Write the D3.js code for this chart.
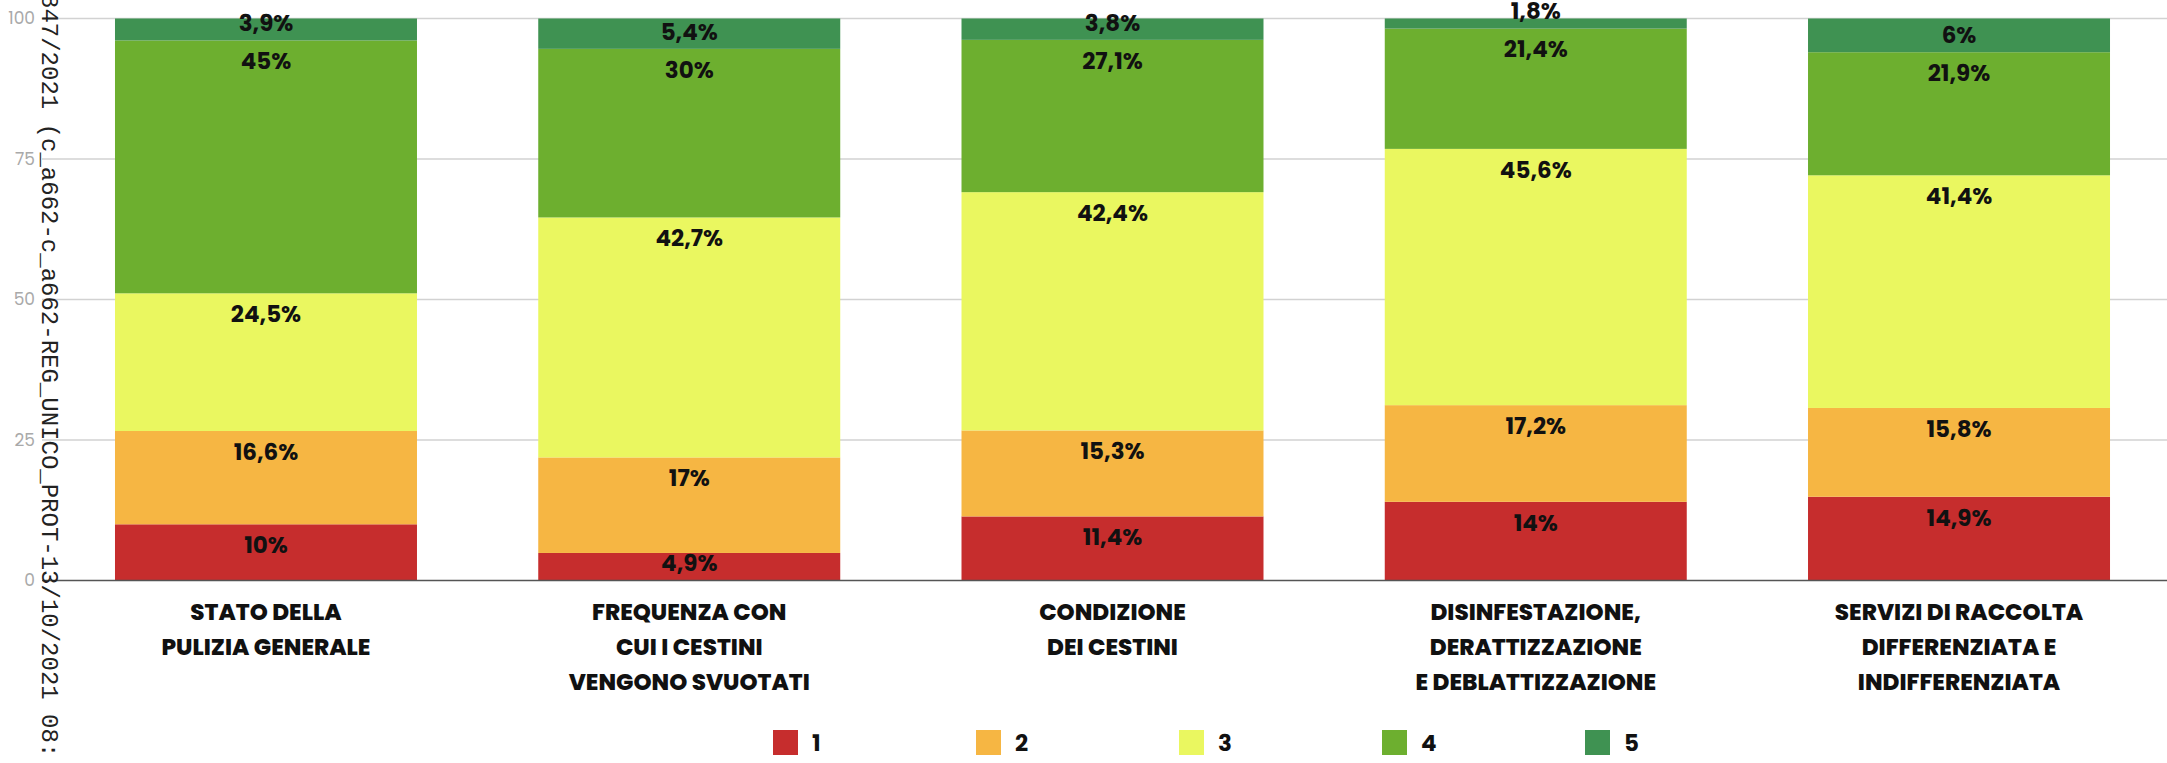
<!DOCTYPE html>
<html>
<head>
<meta charset="utf-8">
<script src="https://cdn.jsdelivr.net/npm/d3@7"></script>
<style>
  html, body { margin: 0; padding: 0; background: #fff; }
  svg { display: block; }
</style>
</head>
<body>
<svg id="chart" width="2167" height="763"></svg>
<script>
// ---- data ----
const categories = [
  ["STATO DELLA", "PULIZIA GENERALE"],
  ["FREQUENZA CON", "CUI I CESTINI", "VENGONO SVUOTATI"],
  ["CONDIZIONE", "DEI CESTINI"],
  ["DISINFESTAZIONE,", "DERATTIZZAZIONE", "E DEBLATTIZZAZIONE"],
  ["SERVIZI DI RACCOLTA", "DIFFERENZIATA E", "INDIFFERENZIATA"]
];
const seriesNames = ["1", "2", "3", "4", "5"];
const series1 = [10, 4.9, 11.4, 14, 14.9];
const series2 = [16.6, 17, 15.3, 17.2, 15.8];
const series3 = [24.5, 42.7, 42.4, 45.6, 41.4];
const series4 = [45, 30, 27.1, 21.4, 21.9];
const series5 = [3.9, 5.4, 3.8, 1.8, 6];
const yTicks = [0, 25, 50, 75, 100];
const colors = ["#c62d2d", "#f6b643", "#eaf760", "#6daf2f", "#3f9252"];
const stampText = "847/2021 (c_a662-c_a662-REG_UNICO_PROT-13/10/2021 08:";

// ---- layout ----
const W = 2167, H = 763;
const svg = d3.select("#chart");
const FONT = "Poppins, 'Open Sans', sans-serif";
const allSeries = [series1, series2, series3, series4, series5];

const rows = categories.map((c, i) => {
  const r = { key: i };
  allSeries.forEach((s, k) => r[seriesNames[k]] = s[i]);
  return r;
});

const x = d3.scaleBand()
  .domain(d3.range(categories.length))
  .range([57, 2168])
  .paddingInner(0.2865)
  .paddingOuter(0.137);

const y = d3.scaleLinear().domain([0, 100]).range([580.5, 18.5]);

const stacked = d3.stack().keys(seriesNames)(rows);

// tick labels
const yAxis = d3.axisLeft(y).tickValues(yTicks).tickSize(0).tickPadding(0);
const gAxis = svg.append("g").attr("transform", "translate(35,0)").call(yAxis);
gAxis.select(".domain").remove();
gAxis.selectAll("text")
  .attr("fill", "#a9a9a9")
  .attr("font-family", FONT)
  .attr("font-size", 17)
  .attr("x", 0);

// gridlines
svg.append("g").selectAll("line")
  .data(yTicks.filter(t => t !== 0))
  .join("line")
  .attr("x1", 42).attr("x2", W)
  .attr("y1", d => y(d)).attr("y2", d => y(d))
  .attr("stroke", "#d2d2d2").attr("stroke-width", 1.5);

// bars
const gBars = svg.append("g");
stacked.forEach((layer, k) => {
  gBars.append("g").attr("fill", colors[k])
    .selectAll("rect")
    .data(layer)
    .join("rect")
    .attr("x", (d, i) => x(i))
    .attr("width", x.bandwidth())
    .attr("y", d => y(d[1]))
    .attr("height", d => y(d[0]) - y(d[1]));
});

// zero axis line
svg.append("line")
  .attr("x1", 42).attr("x2", W)
  .attr("y1", y(0)).attr("y2", y(0))
  .attr("stroke", "#555").attr("stroke-width", 1.5);

// value labels
const fmt = v => String(v).replace(".", ",") + "%";
const gLabels = svg.append("g")
  .attr("font-family", FONT)
  .attr("font-weight", 700)
  .attr("font-size", 23)
  .attr("fill", "#111")
  .attr("text-anchor", "middle");
stacked.forEach((layer, k) => {
  gLabels.append("g").selectAll("text")
    .data(layer)
    .join("text")
    .attr("x", (d, i) => x(i) + x.bandwidth() / 2)
    .attr("y", d => Math.min(y(d[1]) + 20.5, y(d[0]) - 17.5))
    .attr("dy", "0.36em")
    .text((d, i) => fmt(allSeries[k][i]));
});

// category labels
const gCat = svg.append("g")
  .attr("font-family", FONT)
  .attr("font-weight", 800)
  .attr("font-size", 23)
  .attr("fill", "#111")
  .attr("text-anchor", "middle");
categories.forEach((lines, i) => {
  const cx = x(i) + x.bandwidth() / 2;
  const t = gCat.append("text").attr("x", cx).attr("y", y(0) + 39);
  lines.forEach((ln, j) => {
    t.append("tspan").attr("x", cx).attr("dy", j === 0 ? 0 : 35).text(ln);
  });
});

// legend
const lx = d3.scalePoint().domain(seriesNames).range([773, 1585]);
const items = svg.append("g").selectAll("g").data(seriesNames).join("g")
  .attr("transform", d => `translate(${lx(d)},730)`);
items.append("rect").attr("width", 25).attr("height", 25)
  .attr("fill", (d, i) => colors[i]);
items.append("text").attr("x", 39).attr("y", 12.5).attr("dy", "0.36em")
  .attr("font-family", FONT).attr("font-weight", 700).attr("font-size", 23)
  .attr("fill", "#111").text(d => d);

// vertical stamp text
svg.append("text")
  .attr("transform", "translate(42,-6) rotate(90)")
  .attr("font-family", "'Liberation Mono', 'DejaVu Sans Mono', monospace")
  .attr("font-size", 24)
  .attr("fill", "#222")
  .text(stampText);
</script>
</body>
</html>
